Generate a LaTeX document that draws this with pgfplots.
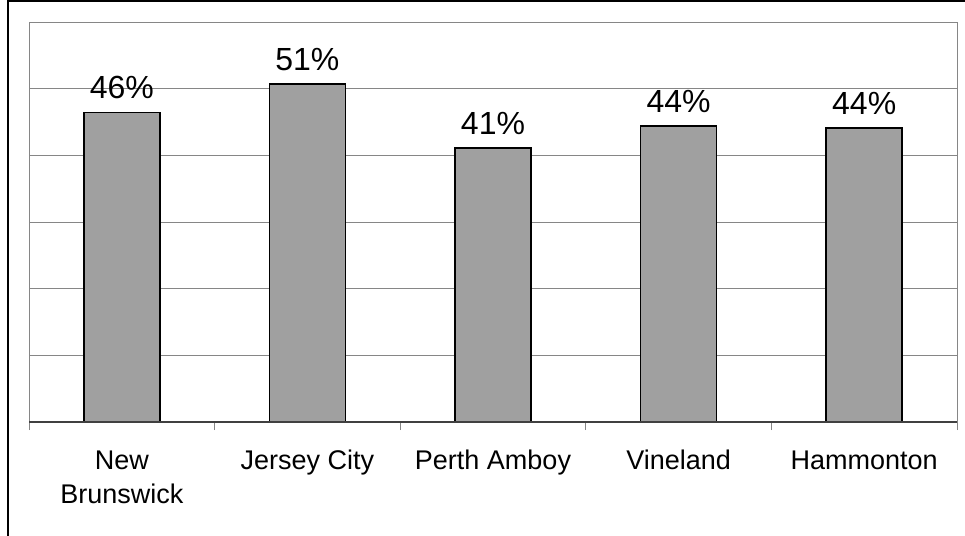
\documentclass[border=0pt]{standalone}
\usepackage{fontspec}
\setmainfont{Liberation Sans}
\usepackage{pgfplots}
\pgfplotsset{compat=1.18}
\definecolor{barfill}{HTML}{A0A0A0}
\definecolor{gridgray}{HTML}{868686}
\begin{document}
\begin{tikzpicture}
\path[use as bounding box] (0pt,0pt) rectangle (965pt,-535pt);
\begin{scope}
\clip (0pt,0pt) rectangle (965pt,-535pt);
% outer chart frame, cut off at right and bottom like the reference
\draw[line width=2pt] (8pt,-1pt) rectangle (1100pt,-700pt);
\begin{axis}[
    at={(29pt,-422pt)}, anchor=south west,
    scale only axis, width=928pt, height=400pt,
    ybar, bar width=76pt,
    xmin=-0.5, xmax=4.5, ymin=0, ymax=60,
    xtick={0,1,2,3,4},
    xticklabels={{New\\Brunswick}, Jersey City, Perth Amboy, Vineland, Hammonton},
    minor xtick={-0.5,0.5,1.5,2.5,3.5,4.5},
    ytick={0,10,...,60}, yticklabels={},
    xtick pos=bottom, ytick pos=left,
    ymajorgrids, grid style={gridgray, line width=1pt},
    major tick length=0pt, minor tick length=8pt, tick align=outside,
    every tick/.style={gridgray, line width=1pt},
    axis line style={gridgray, line width=1pt},
    tick label style={font=\fontsize{27}{34}\selectfont},
    typeset ticklabels with strut,
    xticklabel style={align=center, anchor=north, inner sep=0pt, yshift=-23pt},
    /pgf/number format/assume math mode=true,
    nodes near coords={\pgfmathprintnumber[fixed,precision=0]{\pgfplotspointmeta}\%},
    nodes near coords style={font=\fontsize{32}{36}\selectfont, anchor=south,
        inner sep=0pt, text depth=0pt, yshift=13pt, black},
]
\addplot[fill=barfill, draw=black, line width=1.5pt] coordinates {
    (0,46.4) (1,50.7) (2,41.1) (3,44.4) (4,44.1)
};
\draw[black!75, line width=1.2pt] (rel axis cs:0,0) -- (rel axis cs:1,0);
\end{axis}
\end{scope}
\end{tikzpicture}
\end{document}
